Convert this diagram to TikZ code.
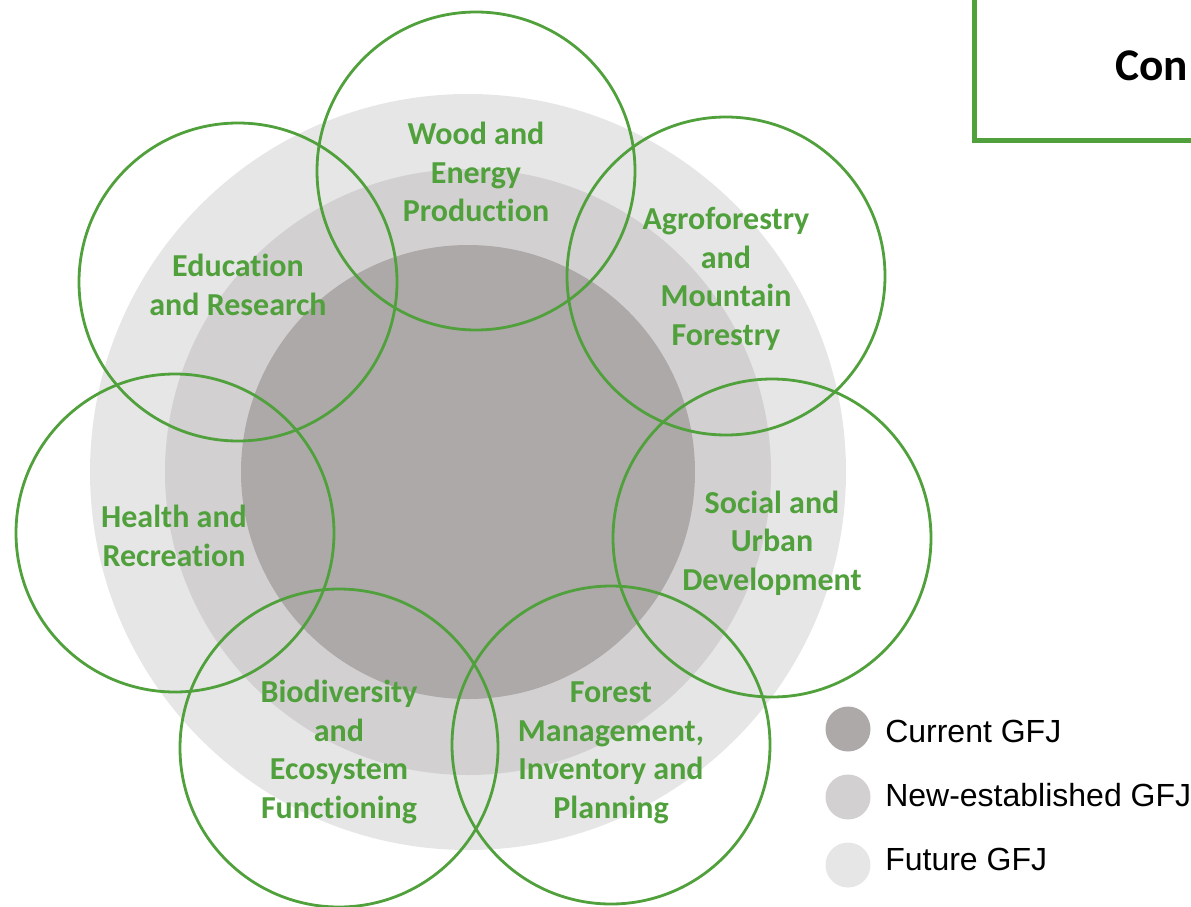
\documentclass[tikz,border=0pt]{standalone}
\usepackage{fontspec}
\setmainfont[Ligatures=NoCommon]{Carlito}
\newfontfamily\legendfont{Liberation Sans}
\definecolor{gfjgreen}{HTML}{50A03C}
\definecolor{curgray}{HTML}{ADA9A9}
\definecolor{newgray}{HTML}{D2D0D1}
\definecolor{futgray}{HTML}{E6E6E6}
\tikzset{
  topic/.style={draw=gfjgreen, line width=2.1pt},
  topiclabel/.style={text=gfjgreen, font=\bfseries\fontsize{24}{28.9}\selectfont, align=center, inner sep=0pt},
  legdot/.style={circle, inner sep=0pt, minimum size=33.75pt},
  legtext/.style={font=\legendfont\fontsize{24}{28}\selectfont, anchor=base west, inner sep=0pt},
}
\begin{document}
\begin{tikzpicture}[x=0.75pt, y=-0.75pt]
\useasboundingbox (0,0) rectangle (1191,906);
\clip (0,0) rectangle (1191,906);
% concentric areas
\fill[futgray] (468,472) circle (378);
\fill[newgray] (468,472) circle (303);
\fill[curgray] (468,472) circle (227);
% topic circles
\draw[topic] (476,171) circle (159);
\draw[topic] (238,282) circle (159);
\draw[topic] (726,276) circle (159);
\draw[topic] (772,538) circle (159);
\draw[topic] (611,745) circle (159);
\draw[topic] (339,748) circle (159);
\draw[topic] (175,533) circle (159);
% labels
\node[topiclabel] (wood) at (476,172) {Wood and\\Energy\\Production};
\node[topiclabel] (edu) at (238,285) {Education\\and Research};
\node[topiclabel] (agro) at (726,279) {Agroforestry\\and\\Mountain\\Forestry};
\node[topiclabel] (social) at (772,543) {Social and\\Urban\\Development};
\node[topiclabel] (forest) at (611,753) {Forest\\Management,\\Inventory and\\Planning};
\node[topiclabel] (bio) at (339,752) {Biodiversity\\and\\Ecosystem\\Functioning};
\node[topiclabel] (health) at (174,536) {Health and\\Recreation};
% legend
\node[legdot, fill=curgray] (l1) at (848,729) {};
\node[legdot, fill=newgray] (l2) at (848,797) {};
\node[legdot, fill=futgray] (l3) at (848,865) {};
\node[legtext] (t1) at (885,742) {Current GFJ};
\node[legtext] (t2) at (885,806) {New-established GFJ};
\node[legtext] (t3) at (885,870) {Future GFJ};
% title box
\draw[gfjgreen, line width=3.75pt] (974,-20) -- (974,140) -- (1220,140);
\node[anchor=base west, inner sep=0pt, font=\bfseries\fontsize{34}{40}\selectfont] (title) at (1115,80) {Con};
\end{tikzpicture}
\end{document}
